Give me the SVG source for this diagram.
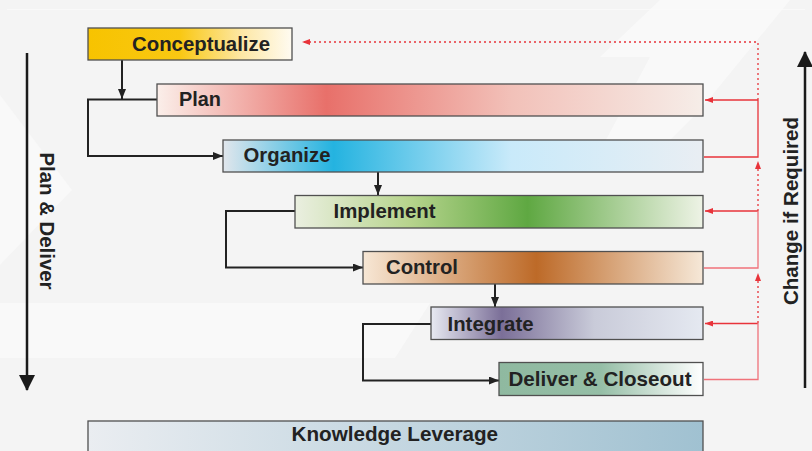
<svg xmlns="http://www.w3.org/2000/svg" width="812" height="451" viewBox="0 0 812 451">
<style>
.box{stroke:#505050;stroke-width:1.3}
.lbl{font-family:"Liberation Sans",Arial,sans-serif;font-weight:bold;font-size:20.5px;fill:#222}
.blk{fill:none;stroke:#222;stroke-width:2}
.red{fill:none;stroke:#e8333a;stroke-width:1.3}
.pink{fill:none;stroke:#f0727a;stroke-width:1.3}
.dot{fill:none;stroke:#e8333a;stroke-width:1.3;stroke-dasharray:2 3}
.axis{fill:none;stroke:#1a1a1a;stroke-width:2.5}
</style>
<defs>
<marker id="ab" viewBox="0 0 10 8" refX="10" refY="4" markerWidth="10" markerHeight="8" markerUnits="userSpaceOnUse" orient="auto"><path d="M0,0L10,4L0,8z" fill="#222"/></marker>
<marker id="ar" viewBox="0 0 8 6" refX="8" refY="3" markerWidth="8" markerHeight="6" markerUnits="userSpaceOnUse" orient="auto"><path d="M0,0L8,3L0,6z" fill="#e8333a"/></marker>
<marker id="abig" viewBox="0 0 16 16" refX="15" refY="8" markerWidth="16" markerHeight="16" markerUnits="userSpaceOnUse" orient="auto"><path d="M0,0L16,8L0,16z" fill="#1a1a1a"/></marker>
<linearGradient id="gC" x1="0" x2="1"><stop offset="0" stop-color="#f7c300"/><stop offset="0.45" stop-color="#f9c813"/><stop offset="0.75" stop-color="#fde7a4"/><stop offset="1" stop-color="#fffbf1"/></linearGradient>
<linearGradient id="gP" x1="0" x2="1"><stop offset="0" stop-color="#fbefea"/><stop offset="0.31" stop-color="#e8706a"/><stop offset="0.65" stop-color="#f2c1b9"/><stop offset="1" stop-color="#f6ede8"/></linearGradient>
<linearGradient id="gO" x1="0" x2="1"><stop offset="0" stop-color="#e1e6ec"/><stop offset="0.23" stop-color="#24b3e0"/><stop offset="0.6" stop-color="#c9eafa"/><stop offset="1" stop-color="#e9eef3"/></linearGradient>
<linearGradient id="gI" x1="0" x2="1"><stop offset="0" stop-color="#eaefe0"/><stop offset="0.28" stop-color="#b7d48d"/><stop offset="0.57" stop-color="#5fa842"/><stop offset="1" stop-color="#eef3e6"/></linearGradient>
<linearGradient id="gK" x1="0" x2="1"><stop offset="0" stop-color="#f7e7d5"/><stop offset="0.51" stop-color="#bd6a28"/><stop offset="1" stop-color="#f6e8d8"/></linearGradient>
<linearGradient id="gN" x1="0" x2="1"><stop offset="0" stop-color="#e7e9f1"/><stop offset="0.26" stop-color="#7b6f98"/><stop offset="0.6" stop-color="#c9cbd9"/><stop offset="1" stop-color="#e5e9f1"/></linearGradient>
<linearGradient id="gD" x1="0" x2="1"><stop offset="0" stop-color="#8fb9a0"/><stop offset="0.5" stop-color="#95bea6"/><stop offset="1" stop-color="#ffffff"/></linearGradient>
<linearGradient id="gL" x1="0" x2="1"><stop offset="0" stop-color="#eaedf1"/><stop offset="1" stop-color="#a0c1d1"/></linearGradient>
</defs>
<rect x="0" y="0" width="812" height="451" fill="#f4f4f4"/>
<g id="background" fill="#f9f9f9">
<polygon points="0,95 72,190 0,265"/>
<polygon points="660,0 790,0 700,110 640,170 590,170 650,57 600,57"/>
<polygon points="0,303 430,303 395,358 0,358"/>
<rect x="7" y="9" width="798" height="0.8" fill="#fbfbfb"/>
</g>
<g id="connectors">
<path class="blk" d="M122,60V99" marker-end="url(#ab)"/>
<path class="blk" d="M157,99.5H88V156H223" marker-end="url(#ab)"/>
<path class="blk" d="M378,172V195" marker-end="url(#ab)"/>
<path class="blk" d="M295,211H226V267.5H363" marker-end="url(#ab)"/>
<path class="blk" d="M495,284V307" marker-end="url(#ab)"/>
<path class="blk" d="M431,324H363V380.5H499" marker-end="url(#ab)"/>
<path class="dot" d="M758,100V42H302" marker-end="url(#ar)"/>
<path class="red" d="M758,100H705" marker-end="url(#ar)"/>
<path class="red" d="M704,157H758V100"/>
<path class="dot" d="M758,211V161" marker-end="url(#ar)"/>
<path class="red" d="M758,211H705" marker-end="url(#ar)"/>
<path class="pink" d="M704,268H758V211"/>
<path class="dot" d="M758,323V273" marker-end="url(#ar)"/>
<path class="red" d="M758,323.5H705" marker-end="url(#ar)"/>
<path class="pink" d="M704,379.5H758V323"/>
<path class="axis" d="M27,53V390" marker-end="url(#abig)"/>
<path class="axis" d="M805,388V52" marker-end="url(#abig)"/>
</g>
<g id="conceptualize"><rect class="box" x="88" y="28" width="204" height="32" fill="url(#gC)"/><text class="lbl" x="132" y="50.5" textLength="138" lengthAdjust="spacingAndGlyphs">Conceptualize</text></g>
<g id="plan"><rect class="box" x="157" y="84" width="546" height="32" fill="url(#gP)"/><text class="lbl" x="179" y="106" textLength="42" lengthAdjust="spacingAndGlyphs">Plan</text></g>
<g id="organize"><rect class="box" x="223" y="140" width="480" height="32" fill="url(#gO)"/><text class="lbl" x="243.5" y="161.5" textLength="87" lengthAdjust="spacingAndGlyphs">Organize</text></g>
<g id="implement"><rect class="box" x="295" y="195.5" width="408" height="32.5" fill="url(#gI)"/><text class="lbl" x="333.5" y="218" textLength="102" lengthAdjust="spacingAndGlyphs">Implement</text></g>
<g id="control"><rect class="box" x="363" y="251.5" width="340" height="32.5" fill="url(#gK)"/><text class="lbl" x="386" y="274" textLength="72" lengthAdjust="spacingAndGlyphs">Control</text></g>
<g id="integrate"><rect class="box" x="431" y="307" width="272" height="32.5" fill="url(#gN)"/><text class="lbl" x="447.5" y="330.5" textLength="86" lengthAdjust="spacingAndGlyphs">Integrate</text></g>
<g id="deliver"><rect class="box" x="499" y="362.5" width="204" height="33" fill="url(#gD)"/><text class="lbl" x="508.5" y="385.5" textLength="183" lengthAdjust="spacingAndGlyphs">Deliver &amp; Closeout</text></g>
<g id="knowledge"><rect class="box" x="88" y="421" width="615" height="34" fill="url(#gL)"/><text class="lbl" x="291.5" y="440.5" textLength="206.5" lengthAdjust="spacingAndGlyphs" style="font-size:21px">Knowledge Leverage</text></g>
<g id="plan-deliver-label"><text class="lbl" transform="translate(39.5,221) rotate(90)" text-anchor="middle" textLength="137" lengthAdjust="spacingAndGlyphs">Plan &amp; Deliver</text></g>
<g id="change-label"><text class="lbl" transform="translate(798,211) rotate(-90)" text-anchor="middle" textLength="188" lengthAdjust="spacingAndGlyphs">Change if Required</text></g>
</svg>
